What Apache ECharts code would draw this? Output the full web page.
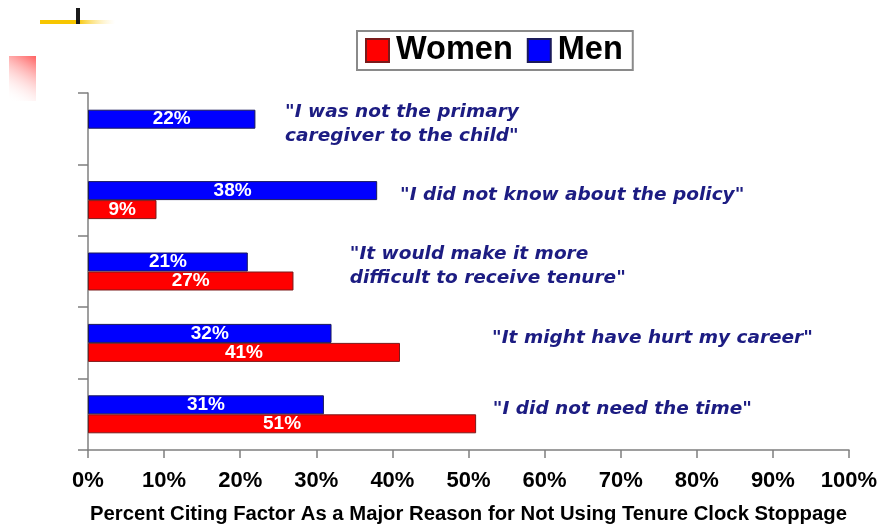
<!DOCTYPE html>
<html>
<head>
<meta charset="utf-8">
<script src="https://cdn.jsdelivr.net/npm/echarts@6/dist/echarts.min.js"></script>
<style>
  html, body { margin: 0; padding: 0; background: #fff; }
  #chart { width: 880px; height: 525px; }
</style>
</head>
<body>
<div id="chart"></div>
<script>
// Reasons, listed bottom to top along the category axis
const reasons = [
  'I did not need the time',
  'It might have hurt my career',
  'It would make it more difficult to receive tenure',
  'I did not know about the policy',
  'I was not the primary caregiver to the child'
];
// Quoted text as shown next to each pair of bars
const quotes = [
  '"I did not need the time"',
  '"It might have hurt my career"',
  '"It would make it more\ndifficult to receive tenure"',
  '"I did not know about the policy"',
  '"I was not the primary\ncaregiver to the child"'
];
// Where each quote starts on the percent axis
const quoteStart = [53.2, 53.1, 34.4, 41, 25.9];

const women = [51, 41, 27, 9, null];
const men = [31, 32, 21, 38, 22];

const xTicks = { min: 0, max: 100, step: 10 };

const FONT = 'Arial, "Liberation Sans", sans-serif';
const QUOTE_FONT = '"DejaVu Sans", Verdana, sans-serif';

const chart = echarts.init(document.getElementById('chart'), null, { renderer: 'canvas' });

const barLabel = {
  show: true,
  position: 'inside',
  color: '#fff',
  fontFamily: FONT,
  fontWeight: 'bold',
  fontSize: 19,
  formatter: p => p.value + '%'
};

chart.setOption({
  animation: false,
  backgroundColor: '#fff',
  grid: { left: 88, right: 31, top: 93, bottom: 75, containLabel: false, outerBoundsMode: 'none' },
  legend: {
    data: ['Women', 'Men'],
    left: 357,
    top: 31,
    orient: 'horizontal',
    padding: [3, 10, 3, 8],
    itemWidth: 23,
    itemHeight: 23,
    itemGap: 14,
    borderColor: '#8a8a8a',
    borderWidth: 2,
    icon: 'rect',
    textStyle: { fontFamily: FONT, fontWeight: 'bold', fontSize: 32.5, color: '#000', padding: [0, 0, 0, 2] }
  },
  xAxis: {
    type: 'value',
    min: xTicks.min,
    max: xTicks.max,
    interval: xTicks.step,
    name: 'Percent Citing Factor As a Major Reason for Not Using Tenure Clock Stoppage',
    nameLocation: 'middle',
    nameGap: 54,
    nameTextStyle: { fontFamily: FONT, fontWeight: 'bold', fontSize: 20.3, color: '#000' },
    axisLine: { show: true, lineStyle: { color: '#7f7f7f', width: 1.5 } },
    axisTick: { show: true, length: 8, lineStyle: { color: '#7f7f7f', width: 1.5 } },
    axisLabel: { formatter: '{value}%', fontFamily: FONT, fontWeight: 'bold', fontSize: 22, color: '#000', margin: 20 },
    splitLine: { show: false }
  },
  yAxis: {
    type: 'category',
    data: reasons,
    axisLine: { show: true, lineStyle: { color: '#7f7f7f', width: 1.5 } },
    axisTick: { show: true, length: 10, lineStyle: { color: '#7f7f7f', width: 1.5 } },
    axisLabel: { show: false },
    splitLine: { show: false }
  },
  series: [
    {
      name: 'Men',
      type: 'bar',
      data: men,
      barWidth: 19,
      barGap: '0%',
      itemStyle: { color: '#0000ff', borderColor: '#1a1a5a', borderWidth: 1 },
      label: barLabel
    },
    {
      name: 'Women',
      type: 'bar',
      data: women,
      barWidth: 19,
      barGap: '0%',
      itemStyle: { color: '#ff0000', borderColor: '#7a1a1a', borderWidth: 1 },
      label: barLabel
    },
    {
      name: 'quotes',
      type: 'scatter',
      symbolSize: 0,
      silent: true,
      itemStyle: { opacity: 1 },
      data: quoteStart.map((x, i) => [x, reasons[i]]),
      label: {
        show: true,
        position: 'right',
        distance: 0,
        offset: [0, -5],
        align: 'left',
        fontFamily: QUOTE_FONT,
        fontWeight: 'bold',
        fontStyle: 'italic',
        fontSize: 18.5,
        lineHeight: 24,
        color: '#1c1c82',
        opacity: 1,
        formatter: p => quotes[p.dataIndex]
      }
    }
  ],
  graphic: [
    // slide ornaments in the top-left corner
    {
      type: 'rect', left: 40, top: 20, silent: true,
      shape: { width: 75, height: 4 },
      style: {
        fill: new echarts.graphic.LinearGradient(0, 0, 1, 0, [
          { offset: 0, color: '#f7c600' },
          { offset: 0.5, color: '#f7c600' },
          { offset: 1, color: 'rgba(255,230,150,0)' }
        ])
      }
    },
    { type: 'rect', left: 76, top: 8, silent: true, shape: { width: 4, height: 16 }, style: { fill: '#1a1a1a' } },
    {
      type: 'rect', left: 9, top: 56, silent: true,
      shape: { width: 27, height: 45 },
      style: {
        fill: new echarts.graphic.LinearGradient(1, 0, 0, 1, [
          { offset: 0, color: '#ff6060' },
          { offset: 1, color: 'rgba(255,255,255,0)' }
        ])
      }
    }
  ]
});
</script>
</body>
</html>
